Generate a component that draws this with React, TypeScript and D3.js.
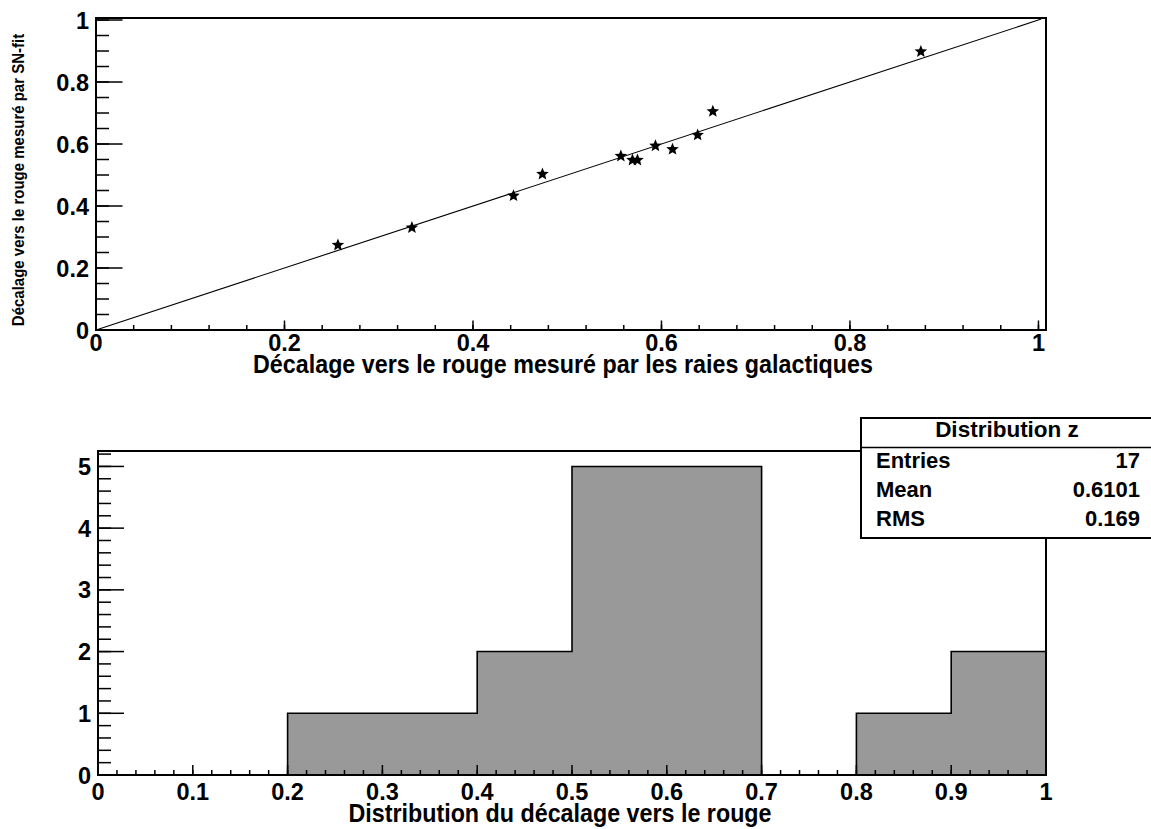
import React from "react";
import * as d3 from "d3";

// ---------- data ----------
const zGal = [0.2567, 0.3352, 0.443, 0.4737, 0.5569, 0.5692, 0.5745, 0.5936, 0.6117, 0.6384, 0.6545, 0.8752];
const zSN = [0.274, 0.33, 0.433, 0.503, 0.561, 0.548, 0.548, 0.594, 0.583, 0.629, 0.705, 0.898];
const fitSlope = 1.0;
const fitIntercept = 0.0;
const fitRange = [0, 1.003];

const binEdges = [0, 0.1, 0.2, 0.3, 0.4, 0.5, 0.6, 0.7, 0.8, 0.9, 1.0];
const binCounts = [0, 0, 1, 1, 2, 5, 5, 0, 1, 2];

const topXTicks = [0, 0.2, 0.4, 0.6, 0.8, 1];
const topYTicks = [0, 0.2, 0.4, 0.6, 0.8, 1];
const botXTicks = [0, 0.1, 0.2, 0.3, 0.4, 0.5, 0.6, 0.7, 0.8, 0.9, 1];
const botYTicks = [0, 1, 2, 3, 4, 5];

const statsTitle = "Distribution z";
const statsLabels = ["Entries", "Mean", "RMS"];
const statsValues = ["17", "0.6101", "0.169"];

const topXTitle = "Décalage vers le rouge mesuré par les raies galactiques";
const topYTitle = "Décalage vers le rouge mesuré par SN-fit";
const botXTitle = "Distribution du décalage vers le rouge";

// ---------- layout ----------
const W = 1151;
const H = 829;
const FONT = "'Liberation Sans', Arial, Helvetica, sans-serif";

const top = { left: 96, right: 1046, top: 18, bottom: 330 };
const bot = { left: 98, right: 1046, top: 451, bottom: 775 };

const xTop = d3.scaleLinear().domain([0, 1.008]).range([top.left, top.right]);
const yTop = d3.scaleLinear().domain([0, 1.0065]).range([top.bottom, top.top]);
const xBot = d3.scaleLinear().domain([0, 1]).range([bot.left, bot.right]);
const yBot = d3.scaleLinear().domain([0, 5.25]).range([bot.bottom, bot.top]);

const fmt = d3.format("~g");
const TICK_FS = 23.5;

// ROOT-like full star marker (outer radius / inner radius)
function starPath(ro: number, ri: number): string {
  const pts: [number, number][] = d3.range(10).map((k) => {
    const a = (k * Math.PI) / 5 - Math.PI / 2;
    const r = k % 2 === 0 ? ro : ri;
    return [r * Math.cos(a), r * Math.sin(a)];
  });
  return (d3.line()(pts) as string) + "Z";
}

export default function App() {
  const topXMinor = d3.range(0, 1.0001, 0.04);
  const topYMinor = d3.range(0, 1.0001, 0.05);
  const botXMinor = d3.range(0, 1.0001, 0.02);
  const botYMinor = d3.range(0, 5.2001, 0.2);

  const star = starPath(6.6, 2.9);

  const fitLine = d3
    .line<number>()
    .x((v) => xTop(v))
    .y((v) => yTop(fitIntercept + fitSlope * v))(fitRange) as string;

  const outlinePts: [number, number][] = [[binEdges[0], 0]];
  binCounts.forEach((c, i) => {
    outlinePts.push([binEdges[i], c]);
    outlinePts.push([binEdges[i + 1], c]);
  });
  outlinePts.push([binEdges[binEdges.length - 1], 0]);
  const outline = d3
    .line<[number, number]>()
    .x((p) => xBot(p[0]))
    .y((p) => yBot(p[1]))(outlinePts) as string;

  const box = { x: 861, y: 418, x2: 1160, y2: 538, sep: 447.5 };

  return (
    <svg
      width={W}
      height={H}
      style={{ position: "absolute", left: 0, top: 0, background: "#fff" }}
      fontFamily={FONT}
      fontWeight="bold"
    >
      <rect x={0} y={0} width={W} height={H} fill="#fff" />

      {/* ================= TOP PLOT ================= */}
      <path d={fitLine} fill="none" stroke="#000" strokeWidth={1.1} />
      {zGal.map((xv, i) => (
        <path key={i} d={star} transform={`translate(${xTop(xv)},${yTop(zSN[i])})`} fill="#000" />
      ))}
      <rect
        x={top.left}
        y={top.top}
        width={top.right - top.left}
        height={top.bottom - top.top}
        fill="none"
        stroke="#000"
        strokeWidth={2}
      />
      {topXMinor.map((t, i) => (
        <line key={"txm" + i} x1={xTop(t)} x2={xTop(t)} y1={top.bottom} y2={top.bottom - 5} stroke="#000" strokeWidth={1.5} />
      ))}
      {topXTicks.map((t, i) => (
        <line key={"txM" + i} x1={xTop(t)} x2={xTop(t)} y1={top.bottom} y2={top.bottom - 9.5} stroke="#000" strokeWidth={1.5} />
      ))}
      {topXTicks.map((t, i) => (
        <text key={"txl" + i} x={xTop(t)} y={351} textAnchor="middle" fontSize={TICK_FS}>
          {fmt(t)}
        </text>
      ))}
      {topYTicks.map((t, i) => (
        <text key={"tyl" + i} x={89} y={yTop(t) + 8.5} textAnchor="end" fontSize={TICK_FS}>
          {fmt(t)}
        </text>
      ))}
      {topYMinor.map((t, i) => (
        <line key={"tym" + i} x1={top.left} x2={top.left + 13} y1={yTop(t)} y2={yTop(t)} stroke="#000" strokeWidth={1.5} />
      ))}
      {topYTicks.map((t, i) => (
        <line key={"tyM" + i} x1={top.left} x2={top.left + 26.5} y1={yTop(t)} y2={yTop(t)} stroke="#000" strokeWidth={1.5} />
      ))}
      <text transform="translate(563,373) scale(1,1.12)" textAnchor="middle" fontSize={23.3}>
        {topXTitle}
      </text>
      <text transform="translate(24,180) rotate(-90) scale(1,1.12)" textAnchor="middle" fontSize={15}>
        {topYTitle}
      </text>

      {/* ================= BOTTOM PLOT ================= */}
      <path d={outline} fill="#999999" stroke="#000" strokeWidth={1.6} strokeLinejoin="miter" />
      <rect
        x={bot.left}
        y={bot.top}
        width={bot.right - bot.left}
        height={bot.bottom - bot.top}
        fill="none"
        stroke="#000"
        strokeWidth={2}
      />
      {botXMinor.map((t, i) => (
        <line key={"bxm" + i} x1={xBot(t)} x2={xBot(t)} y1={bot.bottom} y2={bot.bottom - 5} stroke="#000" strokeWidth={1.5} />
      ))}
      {botXTicks.map((t, i) => (
        <line key={"bxM" + i} x1={xBot(t)} x2={xBot(t)} y1={bot.bottom} y2={bot.bottom - 10} stroke="#000" strokeWidth={1.5} />
      ))}
      {botXTicks.map((t, i) => (
        <text key={"bxl" + i} x={xBot(t)} y={799.5} textAnchor="middle" fontSize={TICK_FS}>
          {fmt(t)}
        </text>
      ))}
      {botYMinor.map((t, i) => (
        <line key={"bym" + i} x1={bot.left} x2={bot.left + 13} y1={yBot(t)} y2={yBot(t)} stroke="#000" strokeWidth={1.5} />
      ))}
      {botYTicks.map((t, i) => (
        <line key={"byM" + i} x1={bot.left} x2={bot.left + 26} y1={yBot(t)} y2={yBot(t)} stroke="#000" strokeWidth={1.5} />
      ))}
      {botYTicks.map((t, i) => (
        <text key={"byl" + i} x={91} y={yBot(t) + 8.5} textAnchor="end" fontSize={TICK_FS}>
          {fmt(t)}
        </text>
      ))}
      <text transform="translate(560,821.5) scale(1,1.12)" textAnchor="middle" fontSize={23.3}>
        {botXTitle}
      </text>

      {/* stats box */}
      <rect x={box.x} y={box.y} width={box.x2 - box.x} height={box.y2 - box.y} fill="#fff" stroke="#000" strokeWidth={2} />
      <line x1={box.x} x2={box.x2} y1={box.sep} y2={box.sep} stroke="#000" strokeWidth={1.5} />
      <text x={1007} y={437} textAnchor="middle" fontSize={22.5}>
        {statsTitle}
      </text>
      {statsLabels.map((l, i) => (
        <g key={"s" + i}>
          <text x={876} y={468 + i * 29} fontSize={22}>
            {l}
          </text>
          <text x={1140} y={468 + i * 29} textAnchor="end" fontSize={22}>
            {statsValues[i]}
          </text>
        </g>
      ))}
    </svg>
  );
}
